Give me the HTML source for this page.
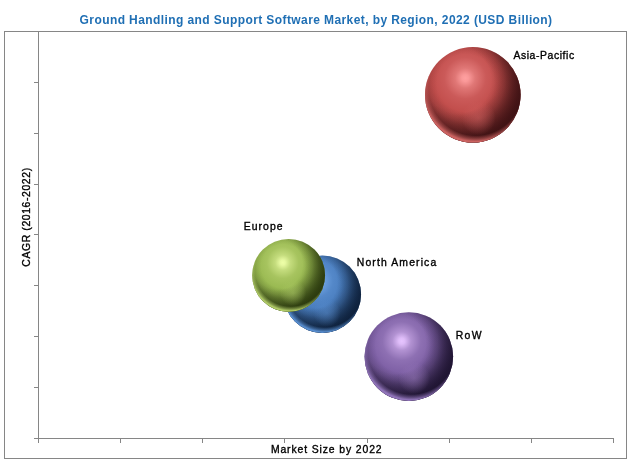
<!DOCTYPE html>
<html lang="en">
<head>
<meta charset="utf-8">
<title>Ground Handling and Support Software Market, by Region, 2022 (USD Billion)</title>
<style>
  html, body { margin: 0; padding: 0; background: #ffffff; }
  body { width: 634px; height: 467px; overflow: hidden; }
  svg { display: block; }
  text { font-family: "Liberation Sans", sans-serif; }
  .title { font-weight: bold; font-size: 12px; fill: #1f6fb4; }
  .lbl { font-weight: normal; font-size: 10.4px; fill: #000000; stroke: #000000; stroke-width: 0.35px; }
</style>
</head>
<body>
<svg width="634" height="467" viewBox="0 0 634 467">
<defs>
  <radialGradient id="g-na" gradientUnits="userSpaceOnUse" cx="316.1" cy="280.7" r="54.2">
    <stop offset="0" stop-color="#8cc0ff"/>
    <stop offset="0.05" stop-color="#87bbfa"/>
    <stop offset="0.15" stop-color="#6b9fdf"/>
    <stop offset="0.31" stop-color="#5488c9"/>
    <stop offset="0.50" stop-color="#4a7ebf"/>
    <stop offset="0.70" stop-color="#3e6ba4"/>
    <stop offset="1" stop-color="#315889"/>
  </radialGradient>
  <radialGradient id="l-na" gradientUnits="userSpaceOnUse" cx="316.5" cy="284.5" r="50.3">
    <stop offset="0" stop-color="#0c1e38" stop-opacity="0"/>
    <stop offset="0.46" stop-color="#0c1e38" stop-opacity="0"/>
    <stop offset="0.62" stop-color="#0c1e38" stop-opacity="0.16"/>
    <stop offset="0.75" stop-color="#0c1e38" stop-opacity="0.44"/>
    <stop offset="0.88" stop-color="#0c1e38" stop-opacity="0.72"/>
    <stop offset="1" stop-color="#0c1e38" stop-opacity="0.86"/>
  </radialGradient>
  <radialGradient id="s-na" gradientUnits="userSpaceOnUse" cx="310.7" cy="282.6" r="55.0">
    <stop offset="0" stop-color="#0c1e38" stop-opacity="0"/>
    <stop offset="0.48" stop-color="#0c1e38" stop-opacity="0"/>
    <stop offset="0.75" stop-color="#0c1e38" stop-opacity="0.36"/>
    <stop offset="0.90" stop-color="#0c1e38" stop-opacity="0.62"/>
    <stop offset="1" stop-color="#0c1e38" stop-opacity="0.78"/>
  </radialGradient>
  <radialGradient id="p-na" gradientUnits="userSpaceOnUse" cx="326.9" cy="312.8" r="13.9">
    <stop offset="0" stop-color="#5a8ecf" stop-opacity="0.5"/>
    <stop offset="0.45" stop-color="#5a8ecf" stop-opacity="0.3"/>
    <stop offset="1" stop-color="#5a8ecf" stop-opacity="0"/>
  </radialGradient>
  <radialGradient id="r-na" gradientUnits="userSpaceOnUse" cx="324.6" cy="289.2" r="44.1">
    <stop offset="0" stop-color="#5e96da" stop-opacity="0"/>
    <stop offset="0.86" stop-color="#5e96da" stop-opacity="0"/>
    <stop offset="0.925" stop-color="#5e96da" stop-opacity="0.5"/>
    <stop offset="0.97" stop-color="#5e96da" stop-opacity="0.92"/>
    <stop offset="1" stop-color="#5e96da" stop-opacity="0.92"/>
  </radialGradient>
  <radialGradient id="g-eu" gradientUnits="userSpaceOnUse" cx="282.8" cy="262.6" r="51.0">
    <stop offset="0" stop-color="#eeffa8"/>
    <stop offset="0.05" stop-color="#e7f9a1"/>
    <stop offset="0.15" stop-color="#c4dc7d"/>
    <stop offset="0.31" stop-color="#a7c45f"/>
    <stop offset="0.50" stop-color="#9aba52"/>
    <stop offset="0.70" stop-color="#83a044"/>
    <stop offset="1" stop-color="#6c8536"/>
  </radialGradient>
  <radialGradient id="l-eu" gradientUnits="userSpaceOnUse" cx="283.1" cy="266.2" r="47.3">
    <stop offset="0" stop-color="#28360c" stop-opacity="0"/>
    <stop offset="0.46" stop-color="#28360c" stop-opacity="0"/>
    <stop offset="0.62" stop-color="#28360c" stop-opacity="0.16"/>
    <stop offset="0.75" stop-color="#28360c" stop-opacity="0.44"/>
    <stop offset="0.88" stop-color="#28360c" stop-opacity="0.72"/>
    <stop offset="1" stop-color="#28360c" stop-opacity="0.86"/>
  </radialGradient>
  <radialGradient id="s-eu" gradientUnits="userSpaceOnUse" cx="277.7" cy="264.4" r="51.7">
    <stop offset="0" stop-color="#28360c" stop-opacity="0"/>
    <stop offset="0.48" stop-color="#28360c" stop-opacity="0"/>
    <stop offset="0.75" stop-color="#28360c" stop-opacity="0.36"/>
    <stop offset="0.90" stop-color="#28360c" stop-opacity="0.62"/>
    <stop offset="1" stop-color="#28360c" stop-opacity="0.78"/>
  </radialGradient>
  <radialGradient id="p-eu" gradientUnits="userSpaceOnUse" cx="293.0" cy="292.8" r="13.1">
    <stop offset="0" stop-color="#afcb68" stop-opacity="0.5"/>
    <stop offset="0.45" stop-color="#afcb68" stop-opacity="0.3"/>
    <stop offset="1" stop-color="#afcb68" stop-opacity="0"/>
  </radialGradient>
  <radialGradient id="r-eu" gradientUnits="userSpaceOnUse" cx="290.8" cy="270.6" r="41.5">
    <stop offset="0" stop-color="#bcd870" stop-opacity="0"/>
    <stop offset="0.86" stop-color="#bcd870" stop-opacity="0"/>
    <stop offset="0.925" stop-color="#bcd870" stop-opacity="0.5"/>
    <stop offset="0.97" stop-color="#bcd870" stop-opacity="0.92"/>
    <stop offset="1" stop-color="#bcd870" stop-opacity="0.92"/>
  </radialGradient>
  <radialGradient id="g-rw" gradientUnits="userSpaceOnUse" cx="401.7" cy="341.1" r="62.0">
    <stop offset="0" stop-color="#e6c4ff"/>
    <stop offset="0.05" stop-color="#debcf8"/>
    <stop offset="0.15" stop-color="#b292d2"/>
    <stop offset="0.31" stop-color="#8e70b3"/>
    <stop offset="0.50" stop-color="#7f61a6"/>
    <stop offset="0.70" stop-color="#6b518e"/>
    <stop offset="1" stop-color="#574176"/>
  </radialGradient>
  <radialGradient id="l-rw" gradientUnits="userSpaceOnUse" cx="402.2" cy="345.5" r="57.6">
    <stop offset="0" stop-color="#1c122e" stop-opacity="0"/>
    <stop offset="0.46" stop-color="#1c122e" stop-opacity="0"/>
    <stop offset="0.62" stop-color="#1c122e" stop-opacity="0.16"/>
    <stop offset="0.75" stop-color="#1c122e" stop-opacity="0.44"/>
    <stop offset="0.88" stop-color="#1c122e" stop-opacity="0.72"/>
    <stop offset="1" stop-color="#1c122e" stop-opacity="0.86"/>
  </radialGradient>
  <radialGradient id="s-rw" gradientUnits="userSpaceOnUse" cx="395.5" cy="343.3" r="62.9">
    <stop offset="0" stop-color="#1c122e" stop-opacity="0"/>
    <stop offset="0.48" stop-color="#1c122e" stop-opacity="0"/>
    <stop offset="0.75" stop-color="#1c122e" stop-opacity="0.36"/>
    <stop offset="0.90" stop-color="#1c122e" stop-opacity="0.62"/>
    <stop offset="1" stop-color="#1c122e" stop-opacity="0.78"/>
  </radialGradient>
  <radialGradient id="p-rw" gradientUnits="userSpaceOnUse" cx="414.1" cy="377.9" r="15.9">
    <stop offset="0" stop-color="#997abc" stop-opacity="0.5"/>
    <stop offset="0.45" stop-color="#997abc" stop-opacity="0.3"/>
    <stop offset="1" stop-color="#997abc" stop-opacity="0"/>
  </radialGradient>
  <radialGradient id="r-rw" gradientUnits="userSpaceOnUse" cx="411.5" cy="350.8" r="50.5">
    <stop offset="0" stop-color="#9a7cc4" stop-opacity="0"/>
    <stop offset="0.86" stop-color="#9a7cc4" stop-opacity="0"/>
    <stop offset="0.925" stop-color="#9a7cc4" stop-opacity="0.5"/>
    <stop offset="0.97" stop-color="#9a7cc4" stop-opacity="0.92"/>
    <stop offset="1" stop-color="#9a7cc4" stop-opacity="0.92"/>
  </radialGradient>
  <radialGradient id="g-ap" gradientUnits="userSpaceOnUse" cx="465.2" cy="78.1" r="66.9">
    <stop offset="0" stop-color="#ffa0a0"/>
    <stop offset="0.05" stop-color="#fa9999"/>
    <stop offset="0.15" stop-color="#e07776"/>
    <stop offset="0.31" stop-color="#cb5a59"/>
    <stop offset="0.50" stop-color="#c24e4c"/>
    <stop offset="0.70" stop-color="#a74240"/>
    <stop offset="1" stop-color="#8c3535"/>
  </radialGradient>
  <radialGradient id="l-ap" gradientUnits="userSpaceOnUse" cx="465.6" cy="82.8" r="62.1">
    <stop offset="0" stop-color="#3a1012" stop-opacity="0"/>
    <stop offset="0.46" stop-color="#3a1012" stop-opacity="0"/>
    <stop offset="0.62" stop-color="#3a1012" stop-opacity="0.16"/>
    <stop offset="0.75" stop-color="#3a1012" stop-opacity="0.44"/>
    <stop offset="0.88" stop-color="#3a1012" stop-opacity="0.72"/>
    <stop offset="1" stop-color="#3a1012" stop-opacity="0.86"/>
  </radialGradient>
  <radialGradient id="s-ap" gradientUnits="userSpaceOnUse" cx="458.5" cy="80.5" r="67.9">
    <stop offset="0" stop-color="#3a1012" stop-opacity="0"/>
    <stop offset="0.48" stop-color="#3a1012" stop-opacity="0"/>
    <stop offset="0.75" stop-color="#3a1012" stop-opacity="0.36"/>
    <stop offset="0.90" stop-color="#3a1012" stop-opacity="0.62"/>
    <stop offset="1" stop-color="#3a1012" stop-opacity="0.78"/>
  </radialGradient>
  <radialGradient id="p-ap" gradientUnits="userSpaceOnUse" cx="478.5" cy="117.7" r="17.2">
    <stop offset="0" stop-color="#d16261" stop-opacity="0.5"/>
    <stop offset="0.45" stop-color="#d16261" stop-opacity="0.3"/>
    <stop offset="1" stop-color="#d16261" stop-opacity="0"/>
  </radialGradient>
  <radialGradient id="r-ap" gradientUnits="userSpaceOnUse" cx="475.7" cy="88.6" r="54.5">
    <stop offset="0" stop-color="#d86a68" stop-opacity="0"/>
    <stop offset="0.86" stop-color="#d86a68" stop-opacity="0"/>
    <stop offset="0.925" stop-color="#d86a68" stop-opacity="0.5"/>
    <stop offset="0.97" stop-color="#d86a68" stop-opacity="0.92"/>
    <stop offset="1" stop-color="#d86a68" stop-opacity="0.92"/>
  </radialGradient>
</defs>
  <rect x="0" y="0" width="634" height="467" fill="#ffffff"/>
  <rect x="4.5" y="31.5" width="622" height="427" fill="#ffffff" stroke="#868686" stroke-width="1" shape-rendering="crispEdges"/>
  <g stroke="#868686" stroke-width="1" shape-rendering="crispEdges" fill="none">
    <line x1="38.5" y1="31.5" x2="38.5" y2="438.5"/>
    <line x1="38.5" y1="438.5" x2="613.5" y2="438.5"/>
        <line x1="38.5" y1="438.5" x2="38.5" y2="443.0"/>
    <line x1="120.5" y1="438.5" x2="120.5" y2="443.0"/>
    <line x1="202.5" y1="438.5" x2="202.5" y2="443.0"/>
    <line x1="284.5" y1="438.5" x2="284.5" y2="443.0"/>
    <line x1="367.5" y1="438.5" x2="367.5" y2="443.0"/>
    <line x1="449.5" y1="438.5" x2="449.5" y2="443.0"/>
    <line x1="531.5" y1="438.5" x2="531.5" y2="443.0"/>
    <line x1="613.5" y1="438.5" x2="613.5" y2="443.0"/>
    <line x1="34.0" y1="82.5" x2="38.5" y2="82.5"/>
    <line x1="34.0" y1="133.5" x2="38.5" y2="133.5"/>
    <line x1="34.0" y1="184.5" x2="38.5" y2="184.5"/>
    <line x1="34.0" y1="234.5" x2="38.5" y2="234.5"/>
    <line x1="34.0" y1="285.5" x2="38.5" y2="285.5"/>
    <line x1="34.0" y1="336.5" x2="38.5" y2="336.5"/>
    <line x1="34.0" y1="387.5" x2="38.5" y2="387.5"/>
    <line x1="34.0" y1="438.5" x2="38.5" y2="438.5"/>
  </g>

  <g>
    <circle cx="322.3" cy="294.2" r="38.7" fill="url(#g-na)"/>
    <circle cx="322.3" cy="294.2" r="38.7" fill="url(#l-na)"/>
    <circle cx="322.3" cy="294.2" r="38.7" fill="url(#s-na)"/>
    <circle cx="322.3" cy="294.2" r="38.7" fill="url(#p-na)"/>
    <circle cx="322.3" cy="294.2" r="38.7" fill="url(#r-na)"/>
  </g>
  <g>
    <circle cx="288.6" cy="275.3" r="36.4" fill="url(#g-eu)"/>
    <circle cx="288.6" cy="275.3" r="36.4" fill="url(#l-eu)"/>
    <circle cx="288.6" cy="275.3" r="36.4" fill="url(#s-eu)"/>
    <circle cx="288.6" cy="275.3" r="36.4" fill="url(#p-eu)"/>
    <circle cx="288.6" cy="275.3" r="36.4" fill="url(#r-eu)"/>
  </g>
  <g>
    <circle cx="408.8" cy="356.6" r="44.3" fill="url(#g-rw)"/>
    <circle cx="408.8" cy="356.6" r="44.3" fill="url(#l-rw)"/>
    <circle cx="408.8" cy="356.6" r="44.3" fill="url(#s-rw)"/>
    <circle cx="408.8" cy="356.6" r="44.3" fill="url(#p-rw)"/>
    <circle cx="408.8" cy="356.6" r="44.3" fill="url(#r-rw)"/>
  </g>
  <g>
    <circle cx="472.8" cy="94.8" r="47.8" fill="url(#g-ap)"/>
    <circle cx="472.8" cy="94.8" r="47.8" fill="url(#l-ap)"/>
    <circle cx="472.8" cy="94.8" r="47.8" fill="url(#s-ap)"/>
    <circle cx="472.8" cy="94.8" r="47.8" fill="url(#p-ap)"/>
    <circle cx="472.8" cy="94.8" r="47.8" fill="url(#r-ap)"/>
  </g>
  <text class="title" x="79.6" y="23.7" textLength="472.5" lengthAdjust="spacing">Ground Handling and Support Software Market, by Region, 2022 (USD Billion)</text>
  <text class="lbl" x="513.4" y="59" textLength="60.8" lengthAdjust="spacing">Asia-Pacific</text>
  <text class="lbl" x="243.8" y="229.9" textLength="38.7" lengthAdjust="spacing">Europe</text>
  <text class="lbl" x="356.8" y="265.7" textLength="79.4" lengthAdjust="spacing">North America</text>
  <text class="lbl" x="455.8" y="338.9" textLength="25.7" lengthAdjust="spacing">RoW</text>
  <text class="lbl" x="270.9" y="452.8" textLength="110.7" lengthAdjust="spacing">Market Size by 2022</text>
  <text class="lbl" transform="translate(29.6 266.7) rotate(-90)" x="0" y="0" textLength="98.8" lengthAdjust="spacing">CAGR (2016-2022)</text>
</svg>
</body>
</html>
